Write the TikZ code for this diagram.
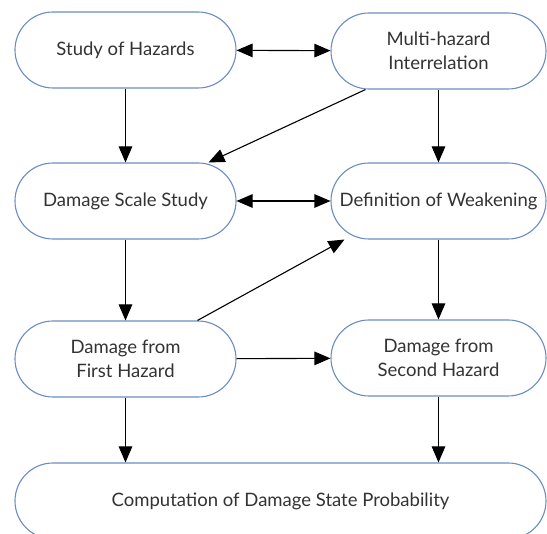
\documentclass[tikz,border=0pt]{standalone}
\usepackage{fontspec}
\setmainfont{Lato}
\usetikzlibrary{arrows.meta}
\definecolor{boxblue}{HTML}{6A8EC3}
\definecolor{txtgray}{HTML}{333333}
\tikzset{
  stage/.style={rectangle,rounded corners=38pt,draw=boxblue,line width=1.1pt,fill=white,
    minimum height=76pt,align=center,text=txtgray,font=\fontsize{18.5}{24}\selectfont,inner sep=0pt},
  flow/.style={line width=1.1pt,-{Triangle[length=16pt,width=13.5pt]}},
  both/.style={line width=1.1pt,{Triangle[length=16pt,width=13.5pt]}-{Triangle[length=16pt,width=13.5pt]}}
}
\begin{document}
\begin{tikzpicture}[x=1pt,y=-1pt]
\useasboundingbox (0,0) rectangle (547,534);
% first row
\node [stage,minimum width=221pt] (hazards) at (125.5,50) {Study of Hazards};
\node [stage,minimum width=215pt] (inter) at (438.5,51) {Multi-hazard\\Interrelation};
% second row
\node [stage,minimum width=221pt] (scale) at (125.5,201) {Damage Scale Study};
\node [stage,minimum width=215pt] (weak) at (438.5,201) {Definition of Weakening};
% third row
\node [stage,minimum width=221pt] (first) at (125.5,359) {Damage from\\First Hazard};
\node [stage,minimum width=215pt] (second) at (438.5,358) {Damage from\\Second Hazard};
% bottom
\node [stage,minimum width=531pt] (prob) at (280.5,501) {Computation of Damage State Probability};

\draw [both] (hazards) -- (inter);
\draw [flow] (hazards) -- (scale);
\draw [flow] ([xshift=-73pt]inter.south) -- ([xshift=83pt]scale.north);
\draw [flow] (inter) -- (weak);
\draw [both] (scale) -- (weak);
\draw [flow] (scale) -- (first);
\draw [flow] ([xshift=72pt]first.north) -- ([xshift=-94pt]weak.south);
\draw [flow] (weak) -- (second);
\draw [flow] (first) -- (second);
\draw [flow] (first) -- (first |- prob.north);
\draw [flow] (second) -- (second |- prob.north);
\end{tikzpicture}
\end{document}
